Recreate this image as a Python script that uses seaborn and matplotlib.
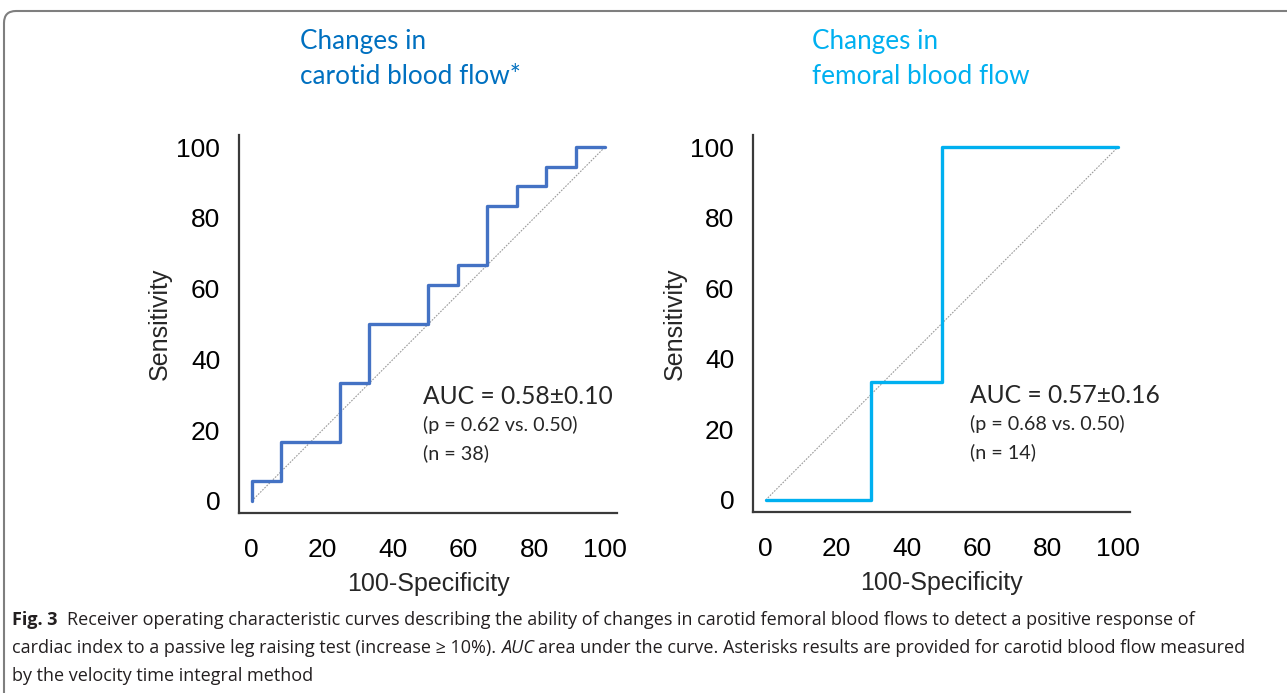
import numpy as np
import pandas as pd
import matplotlib
matplotlib.use("Agg")
import matplotlib.pyplot as plt
import seaborn as sns
from matplotlib.patches import FancyBboxPatch
from matplotlib.transforms import IdentityTransform
from matplotlib.ticker import MultipleLocator

# ---------------- data ----------------
carotid_fpr = [0, 0, 8.33, 8.33, 25, 25, 33.33, 33.33, 50, 50, 58.33, 58.33,
               66.67, 66.67, 75, 75, 83.33, 83.33, 91.67, 91.67, 100]
carotid_tpr = [0, 5.56, 5.56, 16.67, 16.67, 33.33, 33.33, 50, 50, 61.11, 61.11,
               66.67, 66.67, 83.33, 83.33, 88.89, 88.89, 94.44, 94.44, 100, 100]
femoral_fpr = [0, 30, 30, 50, 50, 100]
femoral_tpr = [0, 0, 33.33, 33.33, 100, 100]
chance = [0, 100]

titles = [["Changes in", "carotid blood flow*"], ["Changes in", "femoral blood flow"]]
auc_text = ["AUC = 0.58±0.10", "AUC = 0.57±0.16"]
p_text = ["(p = 0.62 vs. 0.50)", "(p = 0.68 vs. 0.50)"]
n_text = ["(n = 38)", "(n = 14)"]
tick_values = [0, 20, 40, 60, 80, 100]
x_label = "100-Specificity"
y_label = "Sensitivity"

caption_lines = [
    [("Fig. 3", "bold"), (None, 2),
     ("Receiver operating characteristic curves describing the ability of changes in carotid femoral blood flows to detect a positive response of", "normal")],
    [("cardiac index to a passive leg raising test (increase ≥ 10%).", "normal"), (None, 1),
     ("AUC", "italic"), (None, 1),
     ("area under the curve. Asterisks results are provided for carotid blood flow measured", "normal")],
    [("by the velocity time integral method", "normal")],
]

# ---------------- style ----------------
sns.set_style("white")
plt.rcParams["font.family"] = ["Liberation Sans", "DejaVu Sans"]

line_colors = ["#4472C4", "#00B0F0"]
title_colors = ["#0070C0", "#00B0F0"]
spine_col = "#3a3a3a"

W, H = 1287, 693
fig = plt.figure(figsize=(W / 100, H / 100), dpi=100)

# outer rounded frame
frame = FancyBboxPatch((4, -60), 1400, H - 11 + 60,
                       boxstyle="round,pad=0,rounding_size=12",
                       transform=IdentityTransform(), fill=False,
                       edgecolor="#7f7f7f", linewidth=1.5)
fig.add_artist(frame)

ax_rects = [
    [239 / W, 1 - 513 / H, (617 - 239) / W, (513 - 135) / H],
    [753 / W, 1 - 512 / H, (1130 - 753) / W, (512 - 135) / H],
]
title_x = [300, 812]
txt_font = ["Lato", "DejaVu Sans"]

for i, (fpr, tpr) in enumerate([(carotid_fpr, carotid_tpr), (femoral_fpr, femoral_tpr)]):
    ax = fig.add_axes(ax_rects[i])
    sns.lineplot(x=chance, y=chance, ax=ax, color="#9a9a9a", linewidth=0.8,
                 linestyle=(0, (1.5, 1.2)), sort=False, estimator=None)
    sns.lineplot(x=fpr, y=tpr, ax=ax, color=line_colors[i], linewidth=2.4,
                 sort=False, estimator=None, zorder=3)
    ax.set_xlim(-3.6, 103.4)
    ax.set_ylim(-3.4, 103.4)
    ax.set_xticks(tick_values)
    ax.set_yticks(tick_values)
    ax.set_xticklabels([str(v) for v in tick_values])
    ax.set_yticklabels([str(v) for v in tick_values])
    ax.xaxis.set_minor_locator(MultipleLocator(5))
    ax.yaxis.set_minor_locator(MultipleLocator(5))
    for s in ["top", "right"]:
        ax.spines[s].set_visible(False)
    for s in ["left", "bottom"]:
        ax.spines[s].set_color(spine_col)
        ax.spines[s].set_linewidth(1.6)
    ax.tick_params(which="major", length=7.5, width=1.6, color=spine_col,
                   labelsize=19, labelcolor="black")
    ax.tick_params(which="minor", length=4, width=1.1, color=spine_col)
    ax.tick_params(axis="x", which="major", pad=10.5)
    ax.tick_params(axis="y", which="major", pad=6)
    ax.set_xlabel(x_label, fontsize=18)
    ax.set_ylabel(y_label, fontsize=18)
    ax.xaxis.label.set_va("center")
    ax.yaxis.label.set_va("center")
    ax.xaxis.set_label_coords(0.5, -(584 - 513) / 378)
    ax.yaxis.set_label_coords(-(239 - 160) / 378 if i == 0 else -(753 - 675) / 377, 0.5)
    ax.grid(False)

    # annotation text
    tx = 48.4 if i == 0 else 58.0
    ax.text(tx, 29.6, auc_text[i], fontsize=17.7, family=txt_font, va="center", ha="left")
    ax.text(tx, 21.4, p_text[i], fontsize=14.2, family=txt_font, va="center", ha="left")
    ax.text(tx, 13.5, n_text[i], fontsize=14.2, family=txt_font, va="center", ha="left")

    # panel titles
    fig.text(title_x[i], H - 42, titles[i][0], transform=IdentityTransform(),
             fontsize=18.8, family=txt_font, color=title_colors[i], va="center", ha="left")
    fig.text(title_x[i], H - 76, titles[i][1], transform=IdentityTransform(),
             fontsize=18.8, family=txt_font, color=title_colors[i], va="center", ha="left")

# ---------------- caption ----------------
renderer = fig.canvas.get_renderer()
cap_font = ["Open Sans", "DejaVu Sans"]
cap_col = "#231f20"


def styled(style):
    if style == "bold":
        return dict(fontweight="bold")
    if style == "italic":
        return dict(fontstyle="italic")
    return dict()


def measure(txt, size, style="normal"):
    t = fig.text(0, 0, txt, fontsize=size, family=cap_font, transform=IdentityTransform(), **styled(style))
    w = t.get_window_extent(renderer).width
    t.remove()
    return w


def line_width(pieces, size):
    sp = measure("x x", size) - measure("xx", size)
    w = 0
    for txt, st in pieces:
        if txt is None:
            w += sp * st
        else:
            w += measure(txt, size, st)
    return w


base = 12.0
target = 1240 - 12
cap_size = base * target / line_width(caption_lines[1], base)
space_w = measure("x x", cap_size) - measure("xx", cap_size)

cap_y = [H - 620, H - 648, H - 676]
for pieces, y in zip(caption_lines, cap_y):
    x = 12
    for txt, st in pieces:
        if txt is None:
            x += space_w * st
            continue
        t = fig.text(x, y, txt, fontsize=cap_size, family=cap_font, color=cap_col,
                     transform=IdentityTransform(), va="center", ha="left", **styled(st))
        x += t.get_window_extent(renderer).width

fig.savefig("out.png", dpi=100)
